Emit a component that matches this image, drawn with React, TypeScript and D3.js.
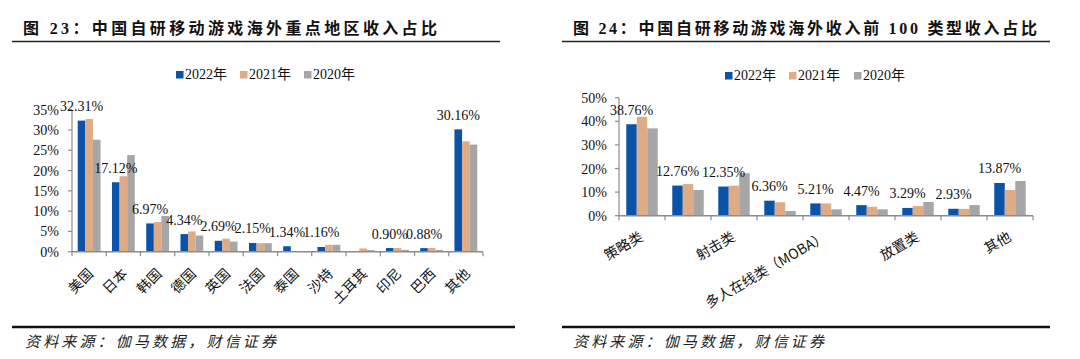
import React from "react";
import * as d3 from "d3";

const seriesNames = ["2022年", "2021年", "2020年"];
const seriesColors = ["#0B53A7", "#DFAB87", "#A6A6A6"];

const regions = ["美国", "日本", "韩国", "德国", "英国", "法国", "泰国", "沙特", "土耳其", "印尼", "巴西", "其他"];
const region2022 = [32.31, 17.12, 6.97, 4.34, 2.69, 2.15, 1.34, 1.16, 0, 0.9, 0.88, 30.16];
const region2021 = [32.7, 18.6, 7.3, 5.0, 3.2, 2.1, 0, 1.7, 0.8, 0.9, 0.9, 27.2];
const region2020 = [27.6, 23.8, 8.8, 4.0, 2.5, 2.1, 0, 1.7, 0.4, 0.45, 0.45, 26.4];
const regionTicks = [0, 5, 10, 15, 20, 25, 30, 35];

const genres = ["策略类", "角色扮演类", "射击类", "卡牌类", "多人在线类（MOBA）", "消除类", "放置类", "休闲类", "其他"];
const genre2022 = [38.76, 12.76, 12.35, 6.36, 5.21, 4.47, 3.29, 2.93, 13.87];
const genre2021 = [41.9, 13.4, 12.7, 5.7, 5.2, 3.8, 4.1, 2.9, 10.9];
const genre2020 = [37.0, 10.9, 18.0, 2.0, 2.7, 2.7, 5.8, 4.5, 14.7];
const genreTicks = [0, 10, 20, 30, 40, 50];

const title1 = "图 23：中国自研移动游戏海外重点地区收入占比";
const title2 = "图 24：中国自研移动游戏海外收入前 100 类型收入占比";
const sourceText = "资料来源：伽马数据，财信证券";

const SERIF = "'Liberation Serif', 'Noto Sans CJK SC', serif";
const CJK = "'Noto Sans CJK SC', sans-serif";
const AXIS = "#8C8C8C";

type ChartProps = {
  cats: string[];
  values: number[][];
  ticks: number[];
  x0: number;
  x1: number;
  yBottom: number;
  yTop: number;
  barFrac: number;
  labelAngle: number;
  labelDx: number;
  labelDy: number;
  showLabel: (i: number) => boolean;
  legendX: number[];
  legendY: number;
  tickLabelX: number;
};

function BarChart(p: ChartProps) {
  const x = d3.scaleBand<string>().domain(p.cats).range([p.x0, p.x1]).padding(0);
  const bw = x.bandwidth();
  const barW = bw * p.barFrac;
  const sub = d3
    .scaleBand<string>()
    .domain(seriesNames)
    .range([(bw - 3 * barW) / 2, (bw + 3 * barW) / 2])
    .padding(0);
  const maxT = p.ticks[p.ticks.length - 1];
  const y = d3.scaleLinear().domain([0, maxT]).range([p.yBottom, p.yTop]);

  return (
    <g>
      {seriesNames.map((s, i) => (
        <g key={s}>
          <rect x={p.legendX[i]} y={p.legendY - 8} width={7.5} height={7.5} fill={seriesColors[i]} />
          <text x={p.legendX[i] + 9} y={p.legendY} fontFamily={SERIF} fontSize={14} fill="#111">
            {s}
          </text>
        </g>
      ))}
      {p.cats.map((c, ci) => (
        <g key={c}>
          {seriesNames.map((s, si) => {
            const v = p.values[si][ci];
            if (!v) return null;
            return (
              <rect
                key={s}
                x={(x(c) as number) + (sub(s) as number)}
                y={y(v)}
                width={sub.bandwidth()}
                height={y(0) - y(v)}
                fill={seriesColors[si]}
              />
            );
          })}
        </g>
      ))}
      <line x1={p.x0} x2={p.x0} y1={y(0)} y2={y(maxT)} stroke={AXIS} strokeWidth={1.2} />
      {p.ticks.map((t) => (
        <g key={t}>
          <line x1={p.x0 - 4} x2={p.x0} y1={y(t)} y2={y(t)} stroke={AXIS} strokeWidth={1.2} />
          <text
            x={p.tickLabelX}
            y={y(t) + 5}
            textAnchor="end"
            fontFamily={SERIF}
            fontSize={14}
            fill="#111"
          >
            {t}%
          </text>
        </g>
      ))}
      <line x1={p.x0} x2={p.x1} y1={y(0)} y2={y(0)} stroke={AXIS} strokeWidth={1.5} />
      {[...p.cats.map((c) => x(c) as number), p.x1].map((bx, i) => (
        <line key={i} x1={bx} x2={bx} y1={y(0)} y2={y(0) + 4.5} stroke={AXIS} strokeWidth={1.2} />
      ))}
      {p.cats.map((c, ci) => {
        if (!p.showLabel(ci)) return null;
        const ax = (x(c) as number) + bw / 2 + p.labelDx;
        const ay = y(0) + p.labelDy;
        return (
          <text
            key={c}
            transform={`translate(${ax},${ay}) rotate(${p.labelAngle})`}
            textAnchor="end"
            fontFamily={CJK}
            fontSize={14}
            fill="#111"
          >
            {c}
          </text>
        );
      })}
      {p.cats.map((c, ci) => {
        const v = p.values[0][ci];
        if (!v) return null;
        const cx = (x(c) as number) + (sub(seriesNames[0]) as number) + sub.bandwidth() / 2;
        return (
          <text
            key={c}
            x={cx}
            y={y(v) - 9.5}
            textAnchor="middle"
            fontFamily={SERIF}
            fontSize={14}
            fill="#111"
          >
            {v.toFixed(2)}%
          </text>
        );
      })}
    </g>
  );
}

function Header({ text, x, width, lx0, lx1 }: { text: string; x: number; width: number; lx0: number; lx1: number }) {
  return (
    <g>
      <text
        x={x}
        y={34}
        fontFamily={SERIF}
        fontWeight={700}
        fontSize={16}
        textLength={width}
        lengthAdjust="spacing"
        fill="#111"
      >
        {text}
      </text>
      <line x1={lx0} x2={lx1} y1={41.5} y2={41.5} stroke="#222" strokeWidth={1.5} />
    </g>
  );
}

function Footer({ x, lx0, lx1 }: { x: number; lx0: number; lx1: number }) {
  return (
    <g>
      <line x1={lx0} x2={lx1} y1={327} y2={327} stroke="#111" strokeWidth={2.5} />
      <text
        x={x}
        y={347}
        fontFamily={CJK}
        fontStyle="italic"
        fontSize={15}
        textLength={251}
        lengthAdjust="spacing"
        fill="#222"
      >
        {sourceText}
      </text>
    </g>
  );
}

export default function App() {
  return (
    <svg
      width={1080}
      height={359}
      viewBox="0 0 1080 359"
      style={{ position: "absolute", left: 0, top: 0, background: "#fff" }}
    >
      <rect x={0} y={0} width={1080} height={359} fill="#fff" />
      <Header text={title1} x={23} width={414} lx0={12} lx1={500} />
      <Header text={title2} x={573} width={464} lx0={562} lx1={1050} />

      <BarChart
        cats={regions}
        values={[region2022, region2021, region2020]}
        ticks={regionTicks}
        x0={72}
        x1={483}
        yBottom={251.7}
        yTop={109.7}
        barFrac={0.222}
        labelAngle={-45}
        labelDx={5}
        labelDy={23}
        showLabel={() => true}
        legendX={[176, 240, 304]}
        legendY={79}
        tickLabelX={59}
      />
      <BarChart
        cats={genres}
        values={[genre2022, genre2021, genre2020]}
        ticks={genreTicks}
        x0={619}
        x1={1033}
        yBottom={215.7}
        yTop={97.7}
        barFrac={0.228}
        labelAngle={-30}
        labelDx={2}
        labelDy={24}
        showLabel={(i) => i % 2 === 0}
        legendX={[725, 789, 854]}
        legendY={80}
        tickLabelX={607}
      />

      <Footer x={25} lx0={12} lx1={515} />
      <Footer x={573} lx0={562} lx1={1050} />
    </svg>
  );
}
